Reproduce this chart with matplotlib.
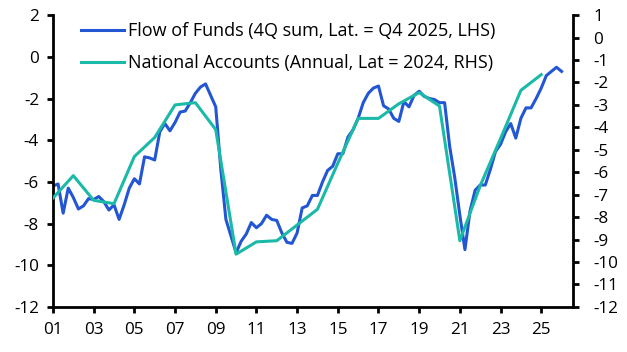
import pandas as pd
import matplotlib
matplotlib.use('Agg')
import matplotlib.pyplot as plt

# ----------------------------------------------------------
# data
# ----------------------------------------------------------
quarters = pd.period_range('2000Q4', '2025Q4', freq='Q')
flow_of_funds = [
    -6.2,
    -6.1, -7.5, -6.3, -6.75,
    -7.3, -7.15, -6.8, -6.85,
    -6.7, -6.95, -7.35, -7.1,
    -7.8, -7.1, -6.3, -5.85,
    -6.1, -4.8, -4.85, -4.95,
    -3.6, -3.2, -3.55, -3.15,
    -2.65, -2.6, -2.2, -1.75,
    -1.45, -1.3, -1.85, -2.4,
    -5.4, -7.8, -8.6, -9.4,
    -8.85, -8.5, -7.95, -8.2,
    -8.0, -7.6, -7.8, -7.85,
    -8.45, -8.9, -8.95, -8.45,
    -7.25, -7.15, -6.65, -6.65,
    -6.0, -5.45, -5.25, -4.65,
    -4.65, -3.85, -3.5, -2.95,
    -2.2, -1.75, -1.5, -1.4,
    -2.35, -2.5, -2.95, -3.1,
    -2.15, -2.4, -1.85, -1.65,
    -1.9, -2.0, -2.05, -2.2,
    -2.2, -4.3, -5.8, -7.6,
    -9.25, -7.4, -6.4, -6.15,
    -6.15, -5.4, -4.55, -4.2,
    -3.6, -3.2, -3.9, -2.95,
    -2.45, -2.45, -2.0, -1.5,
    -0.9, -0.7, -0.5, -0.7,
]

years = list(range(2000, 2025))
national_accounts = [
    -7.15, -6.15, -7.25, -7.4, -5.3, -4.45, -3.0, -2.9, -4.1, -9.65,
    -9.1, -9.05, -8.35, -7.65, -5.6, -3.6, -3.6, -2.95, -2.45, -3.05,
    -9.05, -6.6, -4.5, -2.35, -1.65,
]

tick_years = list(range(2001, 2026, 2))
tick_labels = ['%02d' % (y % 100) for y in tick_years]

# ----------------------------------------------------------
# style
# ----------------------------------------------------------
plt.rcParams['font.family'] = ['Open Sans', 'DejaVu Sans']
plt.rcParams['font.size'] = 12.3
plt.rcParams['axes.unicode_minus'] = False

blue = '#2356d2'
teal = '#1bb9a7'

# quarter-end / year-end positions in fractional years
x_q = quarters.year + quarters.quarter / 4
x_a = [y + 1 for y in years]

# ----------------------------------------------------------
# main
# ----------------------------------------------------------
fig = plt.figure(figsize=(6.27, 3.52), dpi=100)
ax = fig.add_axes([0.0845, 0.128, 0.829, 0.829])
ax2 = ax.twinx()

l1, = ax.plot(x_q, flow_of_funds, color=blue, lw=2.2,
              label='Flow of Funds (4Q sum, Lat. = Q4 2025, LHS)')
l2, = ax2.plot(x_a, national_accounts, color=teal, lw=2.2,
               label='National Accounts (Annual, Lat = 2024, RHS)')

ax.set_xlim(2001, 2026.55)
ax.set_ylim(-12, 2)
ax.set_yticks(range(-12, 3, 2))
ax2.set_ylim(-12, 1)
ax2.set_yticks(range(-12, 2, 1))
ax.set_xticks(tick_years)
ax.set_xticklabels(tick_labels)

for a in (ax, ax2):
    for s in a.spines.values():
        s.set_linewidth(2)
    a.spines['top'].set_visible(False)
ax.spines['right'].set_visible(False)
ax2.spines['left'].set_visible(False)
ax2.spines['bottom'].set_visible(False)

ax.tick_params(axis='both', direction='out', length=4, width=2)
ax.tick_params(axis='y', pad=6)
ax.tick_params(axis='x', pad=7)
ax2.tick_params(axis='y', direction='out', length=4, width=2, pad=11)

ax.legend(handles=[l1, l2], loc='upper left', bbox_to_anchor=(0.04, 1.0),
          frameon=False, handlelength=2.4, handletextpad=0.2,
          labelspacing=0.75, borderaxespad=0, fontsize=13)

plt.savefig('out.png', dpi=100)
